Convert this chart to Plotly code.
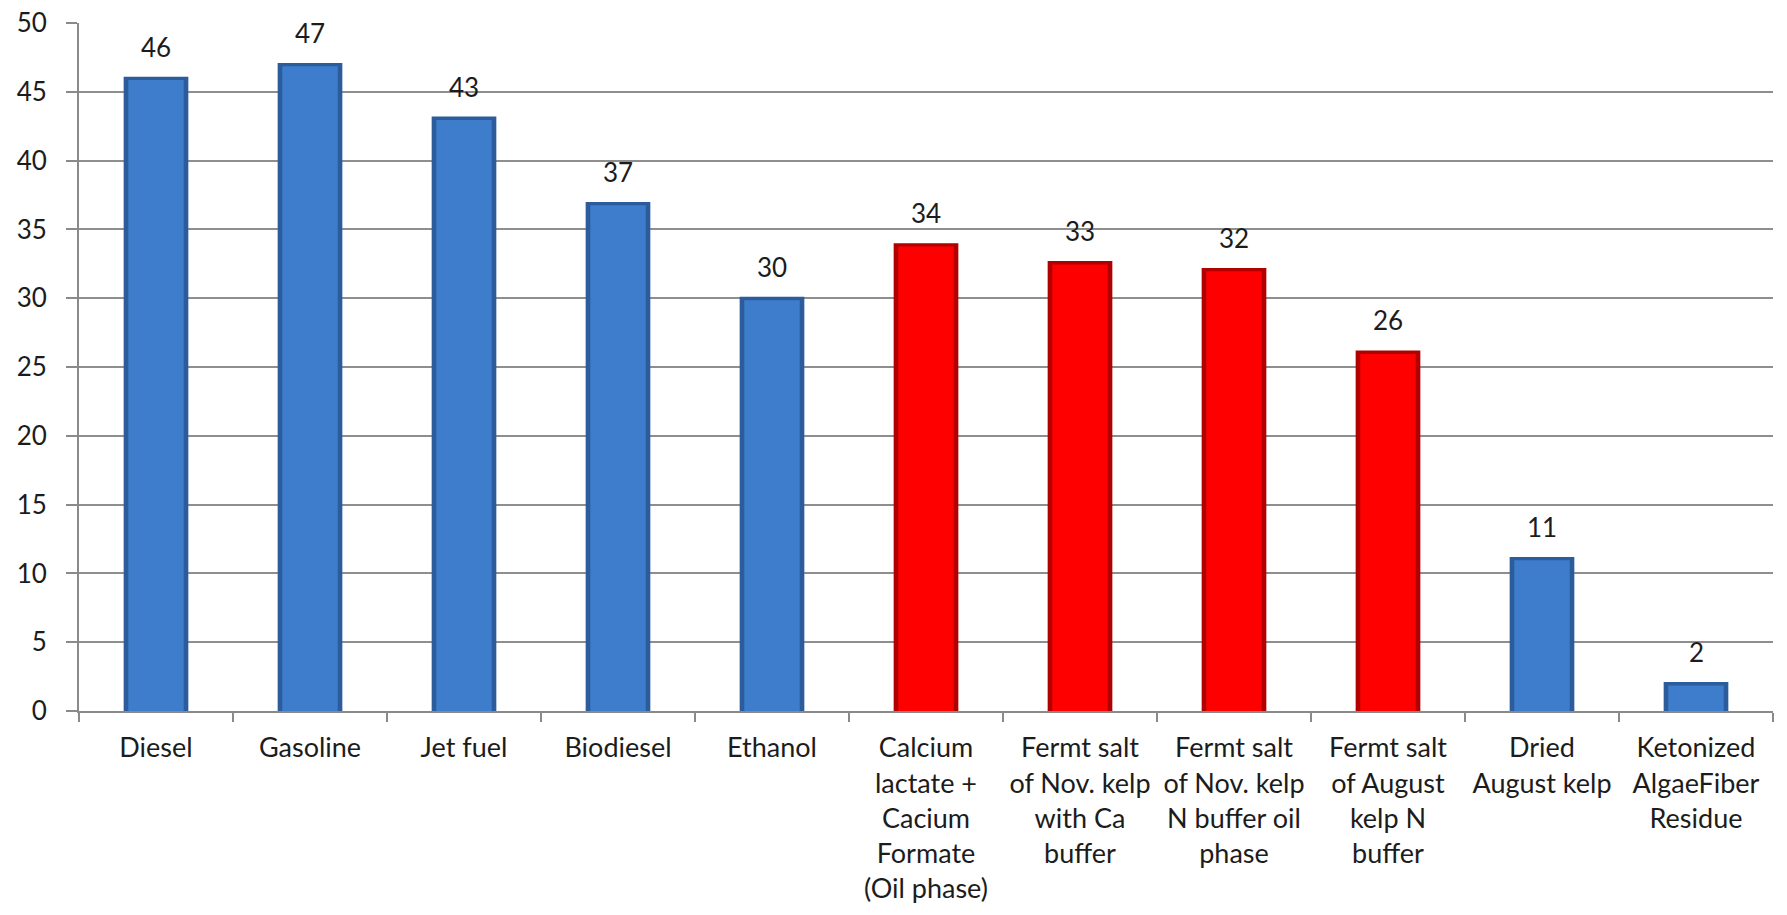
import plotly.graph_objects as go

categories = [
    "Diesel",
    "Gasoline",
    "Jet fuel",
    "Biodiesel",
    "Ethanol",
    "Calcium<br>lactate +<br>Cacium<br>Formate<br>(Oil phase)",
    "Fermt salt<br>of Nov. kelp<br>with Ca<br>buffer",
    "Fermt salt<br>of Nov. kelp<br>N buffer oil<br>phase",
    "Fermt salt<br>of August<br>kelp N<br>buffer",
    "Dried<br>August kelp",
    "Ketonized<br>AlgaeFiber<br>Residue",
]
values = [46.1, 47.1, 43.2, 37.0, 30.1, 34.0, 32.7, 32.2, 26.2, 11.2, 2.1]
groups = ["fuel", "fuel", "fuel", "fuel", "fuel",
          "salt", "salt", "salt", "salt", "fuel", "fuel"]
y_ticks = [0, 5, 10, 15, 20, 25, 30, 35, 40, 45, 50]

edge_col = {"fuel": "#2C5C9C", "salt": "#B00000"}
face_col = {"fuel": "#3D7DCC", "salt": "#FF0000"}

FONT = "Lato, 'Open Sans', sans-serif"
TXT = "#1c1c1c"

fig = go.Figure()

# darker outer body of each bar
fig.add_trace(go.Bar(
    x=categories, y=values, width=0.42,
    marker=dict(color=[edge_col[g] for g in groups], line=dict(width=0)),
    hoverinfo="skip", showlegend=False,
))
# lighter inner face for a bevelled look
fig.add_trace(go.Bar(
    x=categories, y=[v - 0.25 for v in values], width=0.36,
    marker=dict(color=[face_col[g] for g in groups], line=dict(width=0)),
    hoverinfo="skip", showlegend=False,
))

# value labels above the bars
for c, v in zip(categories, values):
    fig.add_annotation(
        x=c, y=v, text=f"{v:.0f}", showarrow=False,
        yanchor="bottom", yshift=12,
        font=dict(family=FONT, size=26, color=TXT),
    )

fig.update_layout(
    width=1787, height=915,
    margin=dict(l=79, r=14, t=23, b=204),
    paper_bgcolor="white", plot_bgcolor="white",
    barmode="overlay",
    font=dict(family=FONT, size=26, color=TXT),
)
fig.update_xaxes(
    type="category", automargin=False, tickangle=0,
    showline=True, linecolor="#8a8a8a", linewidth=2,
    ticks="outside", tickson="boundaries", ticklen=9, tickwidth=2,
    tickcolor="#8a8a8a",
    ticklabelstandoff=12,
    tickfont=dict(family=FONT, size=27, color=TXT),
    showgrid=False,
)
fig.update_yaxes(
    range=[0, 50], tickvals=y_ticks, automargin=False,
    showline=True, linecolor="#8a8a8a", linewidth=2,
    ticks="outside", ticklen=11, tickwidth=2, tickcolor="#8a8a8a",
    ticklabelstandoff=14,
    showgrid=True, gridcolor="#8e8e8e", gridwidth=2,
    zeroline=False,
    tickfont=dict(family=FONT, size=26, color=TXT),
)

fig.write_html("out.html")
